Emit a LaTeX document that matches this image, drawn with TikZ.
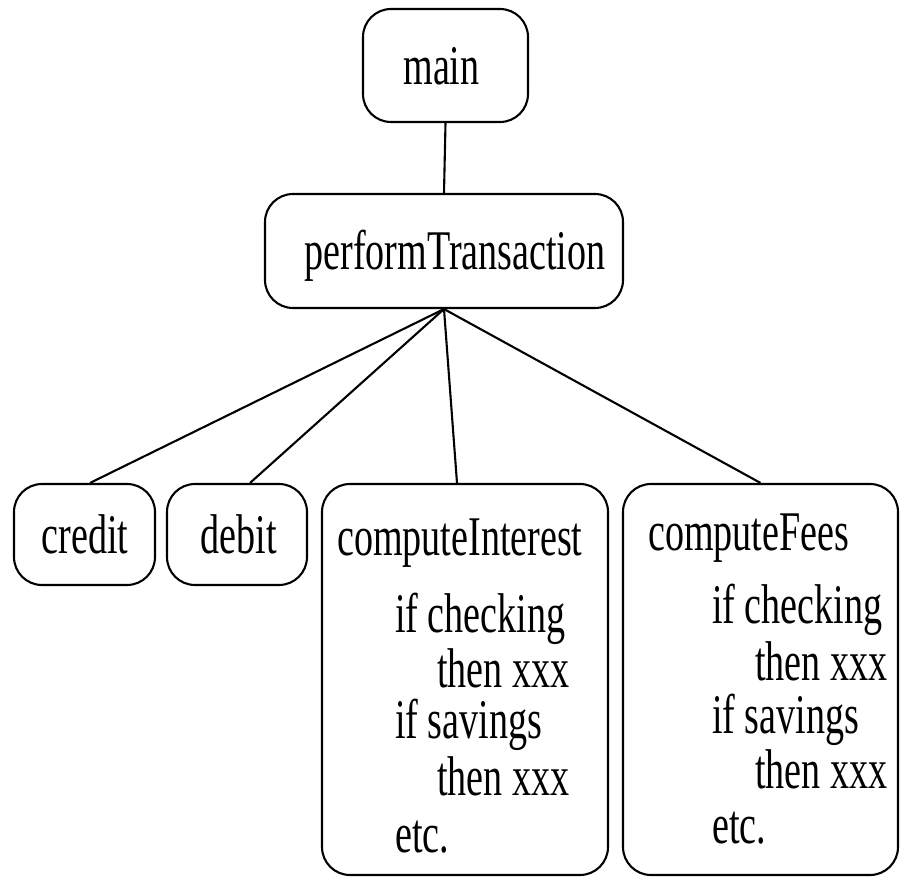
\documentclass[tikz,border=0pt]{standalone}
\usepackage{fontspec}
\setmainfont{Liberation Serif}[FakeStretch=0.68]
\begin{document}
\begin{tikzpicture}[x=1pt,y=-1pt,
  box/.style={draw, line width=2.1pt, rounded corners=28pt, inner sep=0pt},
  lbl/.style={inner sep=0pt, font=\fontsize{56}{58}\selectfont},
  link/.style={line width=2.1pt}]
  \useasboundingbox (0,0) rectangle (900,877);

  % call boxes
  \node[box, minimum width=165pt, minimum height=113pt] (main) at (445.5,65.5) {};
  \node[box, minimum width=358pt, minimum height=114pt] (perform) at (444,251) {};
  \node[box, minimum width=141pt, minimum height=101pt] (credit) at (84.5,534.5) {};
  \node[box, minimum width=140pt, minimum height=101pt] (debit) at (237,534.5) {};
  \node[box, minimum width=286pt, minimum height=391pt] (interest) at (465,679.5) {};
  \node[box, minimum width=275pt, minimum height=391pt] (fees) at (760.5,679.5) {};

  % box labels
  \node[lbl, anchor=base] (mainT) at (441.5,85) {main};
  \node[lbl, anchor=base] (performT) at (455,270) {performTransaction};
  \node[lbl, anchor=base] (creditT) at (85,553) {credit};
  \node[lbl, anchor=base] (debitT) at (238.5,553) {debit};

  \node[lbl, anchor=base west] (iT) at (337,555) {computeInterest};
  \node[lbl, anchor=base west] (i1) at (395,632) {if checking};
  \node[lbl, anchor=base west] (i2) at (437,687) {then xxx};
  \node[lbl, anchor=base west] (i3) at (395,738) {if savings};
  \node[lbl, anchor=base west] (i4) at (437,795) {then xxx};
  \node[lbl, anchor=base west] (i5) at (395,852) {etc.};

  \node[lbl, anchor=base west] (fT) at (648,550) {computeFees};
  \node[lbl, anchor=base west] (f1) at (712,623) {if checking};
  \node[lbl, anchor=base west] (f2) at (755,680) {then xxx};
  \node[lbl, anchor=base west] (f3) at (712,733) {if savings};
  \node[lbl, anchor=base west] (f4) at (755,788) {then xxx};
  \node[lbl, anchor=base west] (f5) at (712,843) {etc.};

  % call links
  \draw[link] (main.south) -- (perform.north);
  \draw[link] (perform.south) -- ([xshift=5.5pt]credit.north);
  \draw[link] (perform.south) -- ([xshift=13pt]debit.north);
  \draw[link] (perform.south) -- ([xshift=-8pt]interest.north);
  \draw[link] (perform.south) -- (fees.north);
\end{tikzpicture}
\end{document}
